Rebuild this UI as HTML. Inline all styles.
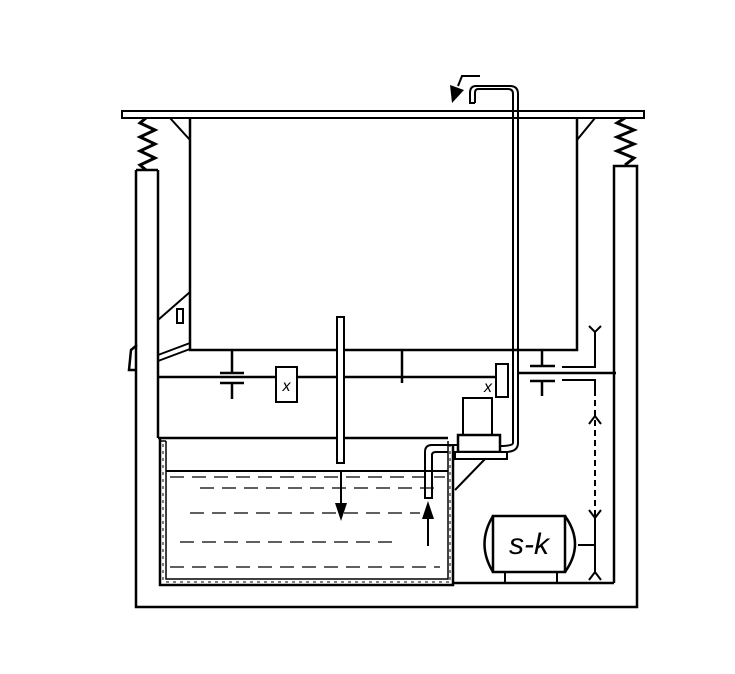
<!DOCTYPE html>
<html><head><meta charset="utf-8"><style>
html,body{margin:0;padding:0;background:#fff;}
svg{display:block;}
</style></head><body>
<svg width="735" height="674" viewBox="0 0 735 674" xmlns="http://www.w3.org/2000/svg" stroke="#000" fill="none" stroke-width="2" font-family="Liberation Sans, sans-serif">
<rect x="0" y="0" width="735" height="674" fill="#fff" stroke="none"/>
<!-- top plate -->
<rect x="122" y="111" width="522" height="7" stroke-width="2"/>
<!-- springs -->
<polyline points="146,118 140,123 155,130 140,137 155,144 140,151 155,158 140,165 146,170" stroke-width="3"/>
<polyline points="625,118 617,123 634,130 617,137 634,144 617,151 634,158 625,165" stroke-width="3"/>
<!-- outer frame -->
<path d="M136,170 L158,170 M136,170 L136,607 L637,607 L637,166 L614,166 L614,583 M158,170 L158,438" stroke-width="2.5"/>
<path d="M453,583 L614,583" stroke-width="2.5"/>
<!-- drum -->
<path d="M190,118 L190,350 L577,350 L577,118" stroke-width="2.5"/>
<path d="M170,118 L190,140 M595,118 L577,140" stroke-width="2"/>
<!-- left bracket -->
<path d="M158,320 L190,292 M158,355 L190,343 M158,361 L190,349" stroke-width="2"/>
<rect x="177" y="309" width="6" height="14" stroke-width="2"/>
<path d="M137,345 L131,350 L129,370 L137,370" stroke-width="2.5"/>
<!-- shaft -->
<path d="M158,377 L276,377 M297,377 L496,377" stroke-width="2.5"/>
<path d="M232,350 L232,373 M220,373 L244,373 M220,383 L244,383 M232,383 L232,399" stroke-width="2.5"/>
<rect x="276" y="367" width="21" height="35" stroke-width="2"/>
<text x="286.5" y="391" font-size="16" font-style="italic" text-anchor="middle" fill="#000" stroke="none">x</text>
<path d="M402,350 L402,383" stroke-width="2.5"/>
<!-- disc -->
<rect x="337" y="317" width="7" height="146" stroke-width="2" fill="#fff"/>
<!-- right x box -->
<rect x="496" y="364" width="12" height="33" stroke-width="2"/>
<text x="488" y="392" font-size="16" font-style="italic" text-anchor="middle" fill="#000" stroke="none">x</text>
<!-- right capacitor & wiring -->
<path d="M542,350 L542,366 M530,366 L555,366 M530,381 L555,381 M542,381 L542,396" stroke-width="2.5"/>
<path d="M518,373 L616,373" stroke-width="2.5"/>
<path d="M562,367 L595,367 L595,332 M589,326 L595,332 L601,326" stroke-width="2"/>
<path d="M562,380 L595,380 L595,390" stroke-width="2"/>
<path d="M595,390 L595,517" stroke-width="2" stroke-dasharray="6,4"/>
<path d="M589,424 L595,416 L601,424 M589,510 L595,518 L601,510 M595,518 L595,573 M589,580 L595,572 L601,580 M578,545 L595,545" stroke-width="2"/>
<!-- pipe -->
<path d="M513,443 L513,94 Q513,89 508,89 L478,89 Q475,89 475,93 L475,103" stroke-width="2"/>
<path d="M518,443 Q518,452 505,452 L500,452" stroke-width="2"/>
<path d="M518,443 L518,94 Q518,86 510,86 L476,86 Q470,86 470,93 L470,103 L475,103" stroke-width="2"/>
<path d="M513,443 Q513,446 500,446" stroke-width="2"/>
<!-- top arrow -->
<path d="M480,76 L462,76 L458,86" stroke-width="2"/>
<polygon points="452,103 450,85 464,90" fill="#000" stroke="none"/>
<!-- pump -->
<rect x="463" y="398" width="29" height="37" stroke-width="2" fill="#fff"/>
<rect x="458" y="435" width="42" height="17" stroke-width="2.5" fill="#fff"/>
<rect x="455" y="452" width="52" height="7" stroke-width="2" fill="#fff"/>
<path d="M485,459 L455,490" stroke-width="2"/>
<!-- tank -->
<path d="M158,438 L337,438 M344,438 L448,438" stroke-width="2.5"/>
<path d="M160,438 L160,585 L453,585 L453,445" stroke-width="2.5"/>
<path d="M166,441 L166,579 L448,579 L448,441" stroke-width="1.5"/>
<path d="M160,441 L166,441" stroke-width="1.5"/>
<g stroke-width="1" stroke-dasharray="3,4">
<path d="M163,444 L163,580 M450,444 L450,580 M166,582 L450,582"/>
</g>
<!-- intake -->
<path d="M458,445 L432,445 Q425,445 425,452 L425,498 L432,498 L432,455 Q432,452 436,452 L448,452" stroke-width="2"/>
<!-- water -->
<path d="M166,471 L448,471" stroke-width="2"/>
<g stroke-width="1.2" stroke-dasharray="14,8">
<path d="M170,477 L445,477 M200,488 L440,488 M190,513 L420,513 M180,542 L400,542 M170,567 L440,567"/>
</g>
<!-- arrows -->
<path d="M341,472 L341,505" stroke-width="2"/>
<polygon points="335,503 347,503 341,521" fill="#000" stroke="none"/>
<path d="M428,546 L428,517" stroke-width="2"/>
<polygon points="422,519 434,519 428,501" fill="#000" stroke="none"/>
<!-- s-k -->
<rect x="493" y="516" width="72" height="56" stroke-width="2.5"/>
<path d="M493,516 Q476,544 493,572 M565,516 Q585,544 565,572" stroke-width="2.5"/>
<path d="M505,572 L505,583 M557,572 L557,583" stroke-width="2"/>
<text x="529" y="554" font-size="30" font-style="italic" text-anchor="middle" fill="#000" stroke="none">s-k</text>
</svg>
</body></html>
